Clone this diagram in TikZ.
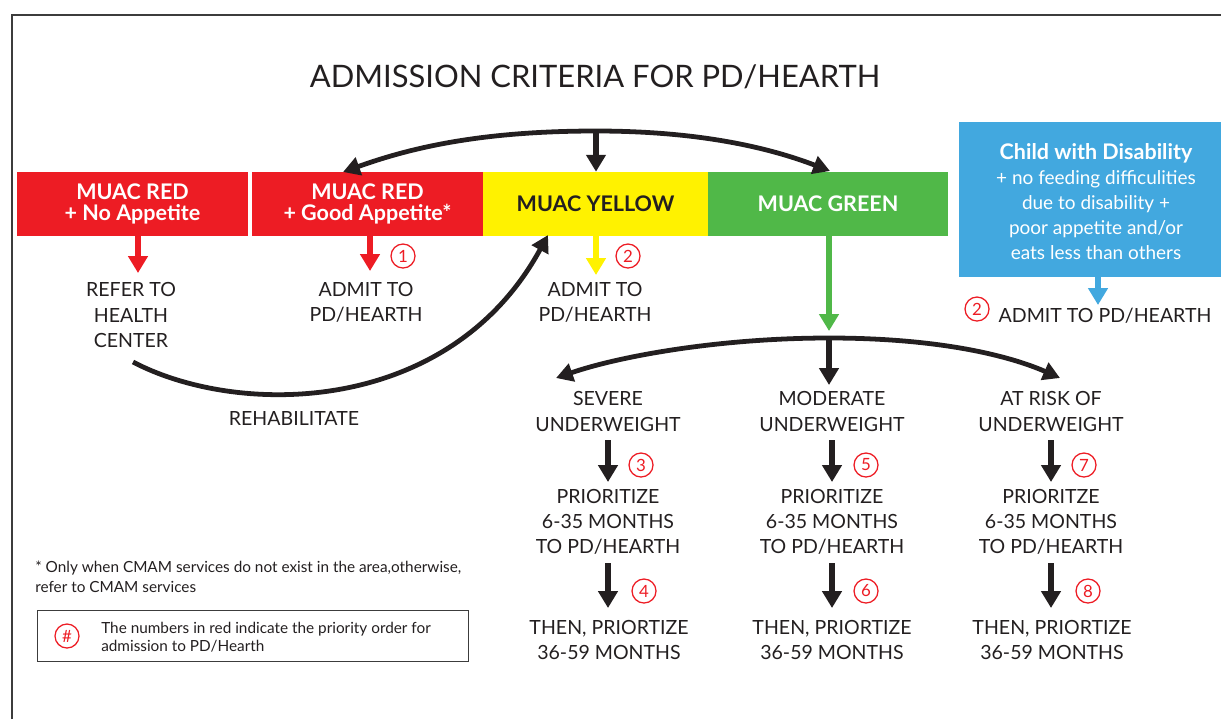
\documentclass[tikz,border=0pt]{standalone}
\usepackage{fontspec}
\setmainfont{Lato}
\usetikzlibrary{arrows.meta}
\definecolor{mred}{HTML}{ED1C24}
\definecolor{myellow}{HTML}{FFF200}
\definecolor{mgreen}{HTML}{50B848}
\definecolor{mblue}{HTML}{42A8DF}
\definecolor{ink}{HTML}{231F20}
\definecolor{rule}{HTML}{3C3C3C}
\begin{document}
\begin{tikzpicture}[x=0.025cm,y=-0.025cm,
  txt/.style={font=\fontsize{13.9}{17.8}\selectfont, text=ink, align=center, inner sep=0pt},
  band/.style={inner sep=0pt, minimum height=1.6cm, align=center,
    font=\bfseries\fontsize{15.3}{15}\selectfont},
  num/.style={circle, draw=mred, line width=0.9pt, text=mred, minimum size=0.6cm,
    inner sep=0pt, font=\fontsize{12}{12}\selectfont},
  bigarr/.style={line width=4.4pt, -{Triangle[width=13.5pt,length=12pt]}},
  curvarr/.style={line width=3.4pt, ink, >={Triangle[width=13pt,length=12pt]}}
]
\useasboundingbox (0,0) rectangle (1221,719);

% frame
\draw[rule, line width=0.9pt] (12,719) -- (12,15) -- (1221,15);

% title
\node[font=\fontsize{22}{24}\selectfont, text=ink, inner sep=0pt] (title) at (595,77)
  {ADMISSION CRITERIA FOR PD/HEARTH};

% colour bands
\node[band, fill=mred, text=white, minimum width=5.775cm] (red1) at (132.5,204)
  {MUAC RED\\+ No Appetite};
\node[band, fill=mred, text=white, minimum width=5.775cm] (red2) at (367.5,204)
  {MUAC RED\\+ Good Appetite*};
\node[band, fill=myellow, text=ink, minimum width=5.625cm] (yellow) at (595.5,204)
  {MUAC YELLOW};
\node[band, fill=mgreen, text=white, minimum width=6cm] (green) at (828,204)
  {MUAC GREEN};
\node[fill=mblue, inner sep=0pt, minimum width=6.55cm, minimum height=3.875cm] (blue) at (1090,199.5) {};
\node[text=white, align=center, inner sep=0pt, font=\fontsize{13.5}{17.8}\selectfont] (bluetxt) at (1096,201.5)
  {\textbf{\fontsize{15.3}{17.8}\selectfont Child with Disability}\\+ no feeding difficulities\\due to disability +\\poor appetite and/or\\eats less than others};

% outcomes under the bands
\node[txt] (refer) at (131,315) {REFER TO\\HEALTH\\CENTER};
\node[txt] (admit1) at (366,302.5) {ADMIT TO\\PD/HEARTH};
\node[txt] (admit2) at (595,302.5) {ADMIT TO\\PD/HEARTH};
\node[txt] (admit3) at (1105,316) {ADMIT TO PD/HEARTH};
\node[txt] (rehab) at (294,418) {REHABILITATE};

% priority numbers
\node[num] (n1) at (403,256) {1};
\node[num] (n2) at (628,256) {2};
\node[num] (n2b) at (977,309) {2};

% arrows from the bands
\coordinate (t1) at (138,273);
\coordinate (t2) at (370,271);
\coordinate (t3) at (596,275);
\coordinate (t4) at (829,331);
\coordinate (t5) at (1098,305);
\draw[bigarr, mred] (red1.south -| t1) -- (t1);
\draw[bigarr, mred] (red2.south -| t2) -- (t2);
\draw[bigarr, myellow] (yellow.south -| t3) -- (t3);
\draw[bigarr, mgreen] (green.south -| t4) -- (t4);
\draw[bigarr, mblue] (blue.south -| t5) -- (t5);

% arc over the bands
\coordinate (peak) at (596,131);
\coordinate (lt) at (343,172);
\coordinate (rt) at (830,171);
\draw[curvarr, <->] (lt) .. controls (410,148) and (480,131) .. (peak)
  .. controls (700,131) and (770,148) .. (rt);
\draw[bigarr, ink] (peak) -- (peak |- yellow.north);

% rehabilitation loop
\coordinate (rs) at (133,362);
\coordinate (rb) at (548,235);
\draw[curvarr, ->] (rs) .. controls (240,418) and (450,415) .. (rb);

% weight categories
\node[txt] (sev) at (608,411.5) {SEVERE\\UNDERWEIGHT};
\node[txt] (mod) at (832,411.5) {MODERATE\\UNDERWEIGHT};
\node[txt] (risk) at (1051,411.5) {AT RISK OF\\UNDERWEIGHT};

\coordinate (peak2) at (829,338);
\coordinate (lt2) at (556,378);
\coordinate (rt2) at (1060,378);
\draw[curvarr, <->] (lt2) .. controls (620,356) and (720,338) .. (peak2)
  .. controls (940,338) and (1010,356) .. (rt2);
\draw[bigarr, ink] (peak2) -- (829,385);

% age priorities
\node[txt] (p1) at (608,522) {PRIORITIZE\\6-35 MONTHS\\TO PD/HEARTH};
\node[txt] (p2) at (832,522) {PRIORITIZE\\6-35 MONTHS\\TO PD/HEARTH};
\node[txt] (p3) at (1051,522) {PRIORITZE\\6-35 MONTHS\\TO PD/HEARTH};
\node[txt] (q1) at (609,639.5) {THEN, PRIORTIZE\\36-59 MONTHS};
\node[txt] (q2) at (832,639.5) {THEN, PRIORTIZE\\36-59 MONTHS};
\node[txt] (q3) at (1052,639.5) {THEN, PRIORTIZE\\36-59 MONTHS};

\foreach \c/\x in {1/608,2/832,3/1051}{
  \draw[bigarr, ink] (\x,440) -- (\x,482);
  \draw[bigarr, ink] (\x,563) -- (\x,608);
}
\node[num] at (641,465) {3};
\node[num] at (644,591) {4};
\node[num] at (866,465) {5};
\node[num] at (866,591) {6};
\node[num] at (1084,465) {7};
\node[num] at (1088,591) {8};

% notes
\node[anchor=north west, align=left, text=ink, inner sep=0pt,
  font=\fontsize{10.9}{14.2}\selectfont] (note) at (35,561)
  {* Only when CMAM services do not exist in the area,otherwise,\\refer to CMAM services};
\node[draw=rule, line width=0.6pt, minimum width=10.775cm, minimum height=1.275cm,
  inner sep=0pt] (legend) at (252.5,635.5) {};
\node[num] (hash) at (67,636) {\#};
\node[anchor=west, align=left, text=ink, inner sep=0pt,
  font=\fontsize{10.9}{12.8}\selectfont] (legtxt) at (101,637)
  {The numbers in red indicate the priority order for\\admission to PD/Hearth};
\end{tikzpicture}
\end{document}
